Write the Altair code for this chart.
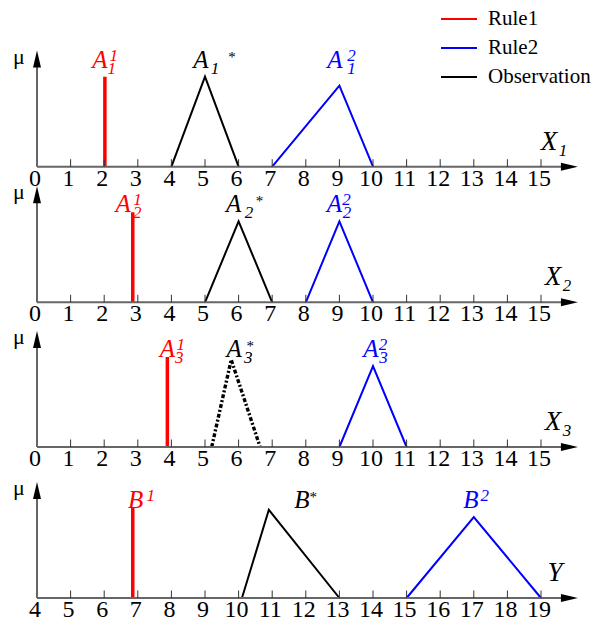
import altair as alt
import pandas as pd

# ---------------- data ----------------
axis_start = [0, 0, 0, 4]                      # first value of each universe
tick_values = [list(range(0, 16)), list(range(0, 16)),
               list(range(0, 16)), list(range(4, 20))]

# Rule1: crisp (singleton) sets
rule1_x = [2.02, 2.85, 3.88, 6.85]
rule1_mu = [1.0, 1.0, 1.0, 1.0]

# Rule2: triangular sets
rule2_x = [[7, 9, 10], [8, 9, 10], [9, 10, 11], [15, 17, 19]]
rule2_mu = [[0, 0.9, 0], [0, 0.9, 0], [0, 0.9, 0], [0, 0.9, 0]]

# Observation (and the inferred consequent B*)
obs_x = [[4, 5, 6], [5, 6, 7], [5.2, 5.78, 6.64], [10.1, 10.9, 13]]
obs_mu = [[0, 1.0, 0], [0, 0.9, 0], [0, 0.97, 0], [0, 0.98, 0]]

series_names = ["Rule1", "Rule2", "Observation"]
series_colors = ["#ff0000", "#0000ff", "#000000"]

# set names: (letter, superscript, subscript)
rule1_names = [("A", "1", "1"), ("A", "1", "2"), ("A", "1", "3"), ("B", "1", "")]
rule2_names = [("A", "2", "1"), ("A", "2", "2"), ("A", "2", "3"), ("B", "2", "")]
obs_names = [("A", "*", "1"), ("A", "*", "2"), ("A", "*", "3"), ("B", "*", "")]
axis_names = [("X", "1"), ("X", "2"), ("X", "3"), ("Y", "")]

# ---------------- layout ----------------
SERIF = "Liberation Serif"
X0 = 37.0          # pixel of the first value on each universe
UNIT = 33.6        # pixels per unit
MU_PX = 90.0       # pixels for mu = 1
AXIS_Y = [166.7, 302.3, 447.0, 598.0]
ARROW_UNITS = 16.1
Y_TOP = 1.29
AXIS_COLOR = "#666666"


def xscale(p):
    lo = axis_start[p]
    return alt.Scale(domain=[lo, lo + 15], range=[X0, X0 + 15 * UNIT], nice=False, zero=False)


def yscale(p):
    return alt.Scale(domain=[0, 1], range=[AXIS_Y[p], AXIS_Y[p] - MU_PX], nice=False, zero=False)


def enc_xy(p):
    return dict(x=alt.X("x:Q", scale=xscale(p), axis=None),
                y=alt.Y("mu:Q", scale=yscale(p), axis=None))


legend = alt.Legend(orient="none", legendX=440, legendY=0, title=None,
                    symbolType="stroke", symbolStrokeWidth=2, symbolSize=1296,
                    labelFont=SERIF, labelFontSize=21, labelColor="black",
                    labelOffset=10, rowPadding=-13, padding=0, labelLimit=300)
color = alt.Color("series:N", scale=alt.Scale(domain=series_names, range=series_colors),
                  legend=legend)


def line_layer(p, xs, mus, series, width=2.0, dash=None):
    df = pd.DataFrame({"x": xs, "mu": mus, "series": series, "o": list(range(len(xs)))})
    kw = dict(strokeWidth=width)
    if dash:
        kw["strokeDash"] = dash
    return alt.Chart(df).mark_line(**kw).encode(color=color, order="o:Q", **enc_xy(p))


def text_layer(p, xval, yval, txt, dx, dy, col, size, italic=True, align="center"):
    df = pd.DataFrame({"x": [xval], "mu": [yval], "t": [txt]})
    kw = dict(dx=dx, dy=dy, align=align, baseline="alphabetic", font=SERIF,
              fontSize=size, color=col)
    if italic:
        kw["fontStyle"] = "italic"
    return alt.Chart(df).mark_text(**kw).encode(text="t:N", **enc_xy(p))


def set_name(p, xval, name, col, a_dx, a_dy, sup_dx, sub_dx, star=False):
    letter, sup, sub = name
    out = [text_layer(p, xval, 1.0, letter, a_dx, a_dy, col, 25)]
    if sup:
        if star:
            out.append(text_layer(p, xval, 1.0, sup, sup_dx, a_dy - 6, col, 15, italic=False))
        else:
            out.append(text_layer(p, xval, 1.0, sup, sup_dx, a_dy - 7, col, 17))
    if sub:
        out.append(text_layer(p, xval, 1.0, sub, sub_dx, a_dy + 6, col, 17))
    return out


# per-panel placement of the set names (pixel nudges)
name_style = [
    # (a_dx, a_dy, sup_dx, sub_dx) for rule1, rule2, observation
    [(-5, -8.4, 9, 7), (-4.5, -8.4, 12, 12), (-4, -8.4, 27, 10)],
    [(-9.5, 0, 4.7, 4.5), (-5, 0, 7, 7.5), (-5, 0, 21, 10.5)],
    [(0, 0, 13.5, 12), (-2, 0, 10, 10.5), (3, 0, 19, 17)],
    [(3, 0, 18, 0), (-3, 0, 11, 0), (33, 0, 44.5, 0)],
]
axis_name_dx = [8, 12, 12, 14]

layers = []

# the series lines come first so the legend takes their plain styling
for p in range(4):
    layers.append(line_layer(p, rule2_x[p], rule2_mu[p], ["Rule2"] * 3))
    layers.append(line_layer(p, obs_x[p], obs_mu[p], ["Observation"] * 3,
                             width=3.4 if p == 2 else 2.0, dash=[4, 2, 2, 2] if p == 2 else None))
    layers.append(line_layer(p, [rule1_x[p], rule1_x[p]], [0, rule1_mu[p]], ["Rule1"] * 2, width=3.5))

for p in range(4):
    lo = axis_start[p]
    # horizontal axis line and vertical mu axis line
    hdf = pd.DataFrame({"x": [lo], "x2": [lo + ARROW_UNITS - 0.3], "mu": [0]})
    layers.append(alt.Chart(hdf).mark_rule(color=AXIS_COLOR, strokeWidth=2).encode(
        x2="x2:Q", **enc_xy(p)))
    vdf = pd.DataFrame({"x": [lo], "mu": [0], "mu2": [Y_TOP - 0.1]})
    layers.append(alt.Chart(vdf).mark_rule(color=AXIS_COLOR, strokeWidth=2).encode(
        y2="mu2:Q", **enc_xy(p)))
    # arrow heads
    adf = pd.DataFrame({"x": [lo + ARROW_UNITS], "mu": [0]})
    layers.append(alt.Chart(adf).mark_point(
        shape="M-2,-0.47L0,0L-2,0.47Z", size=289, filled=True, opacity=1, color="black"
    ).encode(**enc_xy(p)))
    udf = pd.DataFrame({"x": [lo], "mu": [Y_TOP]})
    layers.append(alt.Chart(udf).mark_point(
        shape="M-0.47,2L0,0L0.47,2Z", size=289, filled=True, opacity=1, color="black"
    ).encode(**enc_xy(p)))
    # ticks pointing up
    tdf = pd.DataFrame({"x": tick_values[p][1:], "mu": 0.0, "mu2": 7.5 / MU_PX})
    layers.append(alt.Chart(tdf).mark_rule(color="#333333", strokeWidth=1).encode(
        y2="mu2:Q", **enc_xy(p)))
    # tick labels
    ldf = pd.DataFrame({"x": tick_values[p], "mu": 0.0,
                        "t": [str(v) for v in tick_values[p]]})
    layers.append(alt.Chart(ldf).mark_text(
        dy=19, dx=-2, align="center", baseline="alphabetic", font=SERIF, fontSize=24,
        color="black").encode(text="t:N", **enc_xy(p)))
    # mu label
    layers.append(text_layer(p, lo, 1.144, "μ", -18, 0, "black", 22, italic=False))
    # universe name
    letter, sub = axis_names[p]
    layers.append(text_layer(p, lo + 15, 0, letter, axis_name_dx[p], -17, "black", 27))
    if sub:
        layers.append(text_layer(p, lo + 15, 0, sub, axis_name_dx[p] + 14, -11, "black", 17))
    # set names
    st = name_style[p]
    layers += set_name(p, rule1_x[p], rule1_names[p], "#ff0000", *st[0])
    layers += set_name(p, rule2_x[p][1], rule2_names[p], "#0000ff", *st[1])
    layers += set_name(p, obs_x[p][1], obs_names[p], "#000000", *st[2], star=True)

chart = alt.layer(*layers).resolve_scale(
    x="independent", y="independent"
).properties(
    width=603, height=621, padding=0,
    autosize=alt.AutoSizeParams(type="none"),
).configure_view(stroke=None)

chart.save("out.html", embed_options={"renderer": "svg", "actions": False})
